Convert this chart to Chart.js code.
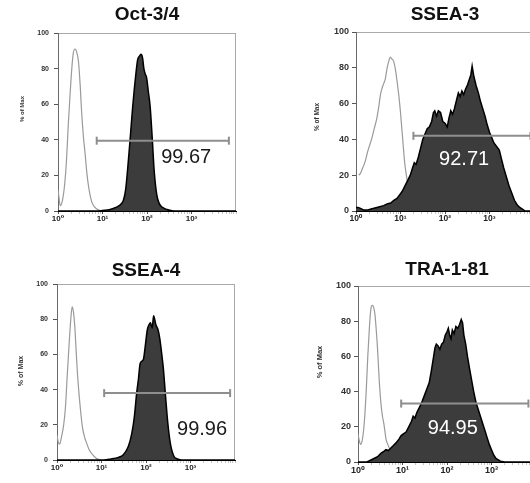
<!DOCTYPE html>
<html><head><meta charset="utf-8">
<script src="https://cdn.jsdelivr.net/npm/chart.js@4"></script>
<style>
html,body{margin:0;padding:0;background:#fff;overflow:hidden;width:530px;height:483px;position:relative}
canvas{position:absolute}
</style></head><body>
<canvas id="c0"></canvas><canvas id="c1"></canvas><canvas id="c2"></canvas><canvas id="c3"></canvas>
<script>
// ---------- data ----------
const panelTitles = ['Oct-3/4', 'SSEA-3', 'SSEA-4', 'TRA-1-81'];
const gatePercents = ['99.67', '92.71', '99.96', '94.95'];
const xTickLabels = ['10\u2070', '10\u00B9', '10\u00B2', '10\u00B3'];
const xTickValues = [1, 10, 100, 1000];
const yTickValues = [0, 20, 40, 60, 80, 100];
const yAxisTitle = '% of Max';

// [log10 fluorescence, % of max]
const oct34Isotype = [[0,12],[0.02,8],[0.05,3],[0.10,6],[0.15,15],[0.19,28],[0.23,48],[0.27,65],[0.31,80],[0.34,88],[0.38,91],[0.41,90],[0.46,84],[0.50,70],[0.53,56],[0.57,42],[0.61,32],[0.65,21],[0.68,15],[0.72,9],[0.76,5],[0.83,2],[0.92,0.5],[1.0,0]];
const oct34Stained = [[0,0],[0.9,0],[1.0,0.3],[1.15,0.7],[1.3,2],[1.40,3.5],[1.47,6],[1.52,12],[1.57,25],[1.62,40],[1.68,59],[1.75,77],[1.79,85],[1.83,87],[1.865,88],[1.90,86],[1.93,80],[1.96,77],[1.99,75],[2.03,67],[2.07,59],[2.12,40],[2.16,23],[2.22,9],[2.28,4],[2.35,2],[2.45,0.8],[2.6,0],[4,0]];

const ssea3Isotype = [[0.06,20],[0.10,21],[0.15,24],[0.21,28],[0.26,33],[0.31,37],[0.36,41],[0.41,46],[0.47,52],[0.51,58],[0.55,65],[0.59,69],[0.62,71],[0.66,74],[0.70,80],[0.74,84],[0.77,86],[0.80,85],[0.84,84],[0.88,80],[0.92,73],[0.96,65],[1.00,55],[1.03,46],[1.06,37],[1.09,28],[1.12,22],[1.15,17],[1.19,10],[1.22,5],[1.28,2],[1.36,0.5],[1.45,0]];
const ssea3Stained = [[0,2],[0.05,2],[0.1,1.5],[0.18,0.5],[0.25,0.5],[0.32,1],[0.4,1.5],[0.47,2],[0.55,2.5],[0.62,3],[0.7,4],[0.78,4.5],[0.85,6],[0.92,7],[0.98,9],[1.04,11],[1.10,14],[1.16,17],[1.22,20],[1.27,24],[1.31,27],[1.35,26],[1.40,30],[1.45,35],[1.50,40],[1.55,43],[1.60,46],[1.65,47],[1.70,50],[1.74,55],[1.77,56],[1.81,53],[1.85,56],[1.90,55],[1.95,50],[2.0,49],[2.05,47],[2.09,52],[2.13,56],[2.17,54],[2.21,57],[2.26,62],[2.30,66],[2.34,64],[2.38,67],[2.42,65],[2.46,68],[2.50,70],[2.54,73],[2.58,76],[2.61,81],[2.65,75],[2.70,70],[2.75,66],[2.80,61],[2.85,57],[2.90,53],[2.95,48],[3.00,44],[3.05,41],[3.10,38],[3.16,36],[3.22,34],[3.27,29],[3.32,24],[3.38,19],[3.44,14],[3.50,10],[3.56,6],[3.62,3.5],[3.68,2],[3.74,1],[3.8,0],[4,0]];

const ssea4Isotype = [[0,14],[0.03,10],[0.06,9],[0.10,13],[0.15,20],[0.19,30],[0.23,48],[0.27,65],[0.31,80],[0.34,87],[0.37,84],[0.40,76],[0.43,62],[0.46,49],[0.50,36],[0.53,28],[0.57,19],[0.62,13],[0.66,10],[0.72,6],[0.80,3],[0.88,1],[0.98,0]];
const ssea4Stained = [[0,0],[1.05,0],[1.2,0.5],[1.38,1.5],[1.49,3],[1.60,7.5],[1.68,15],[1.74,25],[1.79,38],[1.83,46],[1.87,55],[1.94,57],[1.98,64],[2.03,74],[2.07,77],[2.10,78],[2.14,75],[2.17,82],[2.22,77],[2.27,74],[2.31,69],[2.35,61],[2.39,52],[2.44,36],[2.49,21],[2.55,9],[2.63,2],[2.72,0.5],[2.8,0],[4,0]];

const tra181Isotype = [[0,16],[0.03,12],[0.06,10],[0.10,13],[0.14,22],[0.18,38],[0.22,60],[0.26,78],[0.29,87],[0.32,89],[0.35,88],[0.38,84],[0.41,75],[0.44,64],[0.48,45],[0.52,32],[0.55,26],[0.58,22],[0.63,13],[0.67,10],[0.72,7],[0.78,4],[0.85,2],[0.92,0]];
const tra181Stained = [[0,0],[0.2,0],[0.28,1],[0.36,2],[0.44,3],[0.52,5],[0.58,6],[0.63,7],[0.68,6.5],[0.74,8],[0.80,9.5],[0.86,11],[0.92,13],[0.97,15],[1.02,16],[1.08,17],[1.14,20],[1.20,23],[1.24,26],[1.28,25],[1.32,28],[1.36,30],[1.42,33],[1.48,37],[1.54,41],[1.60,45],[1.65,52],[1.70,60],[1.73,65],[1.76,67],[1.80,66],[1.84,64],[1.88,67],[1.92,68],[1.96,72],[2.00,74],[2.03,76],[2.06,72],[2.09,70],[2.12,75],[2.16,73],[2.20,77],[2.24,76],[2.28,78],[2.32,81],[2.35,79],[2.38,72],[2.42,67],[2.46,60],[2.50,54],[2.55,47],[2.60,40],[2.65,34],[2.70,30],[2.75,26],[2.80,22],[2.85,18],[2.90,14],[2.95,10],[3.00,7],[3.05,4],[3.10,2],[3.2,0.5],[3.3,0],[4,0]];

const isotypeSeries = [oct34Isotype, ssea3Isotype, ssea4Isotype, tra181Isotype];
const stainedSeries = [oct34Stained, ssea3Stained, ssea4Stained, tra181Stained];
// gate: [from log10, to log10, level %]
const gateLo = [0.87, 1.29, 1.06, 0.97];
const gateHi = [3.84, 3.92, 3.89, 3.83];
const gateLevel = [39.5, 42, 38, 33.2];

// ---------- layout / style (not data) ----------
const FONT = '"Liberation Sans", Arial, "DejaVu Sans", sans-serif';
const panels = [
  {plotLeft:58,  plotTop:33,  plotH:178, titleGap:18, tickFont:7, xTickFont:8, yTitleFont:6,   yTitle:[-36,76], labelAt:[2.88,30], labelColor:'#1a1a1a', padY:5, stainedTension:0.25},
  {plotLeft:356, plotTop:32,  plotH:179, titleGap:17, tickFont:9, xTickFont:8.5, yTitleFont:6.5, yTitle:[-39,85], labelAt:[2.43,29], labelColor:'#ffffff', padY:3, stainedTension:0},
  {plotLeft:57,  plotTop:284, plotH:176, titleGap:13, tickFont:7, xTickFont:8, yTitleFont:7,   yTitle:[-36,87], labelAt:[3.26,17.6], labelColor:'#1a1a1a', padY:5, stainedTension:0.2},
  {plotLeft:358, plotTop:286, plotH:176, titleGap:16, tickFont:9, xTickFont:9, yTitleFont:7.5, yTitle:[-38,76], labelAt:[2.13,19], labelColor:'#ffffff', padY:3, stainedTension:0}
];

const toPts = arr => arr.map(p => ({x: Math.pow(10, p[0]), y: p[1]}));

const decorPlugin = {
  id: 'panelDecor',
  beforeDatasetsDraw(chart, args, o) {
    const {ctx, chartArea: a} = chart;
    ctx.save();
    ctx.lineWidth = 1;
    ctx.strokeStyle = '#a9a9a9';
    ctx.beginPath();
    ctx.moveTo(a.left, a.top + 0.5); ctx.lineTo(a.right, a.top + 0.5);
    ctx.moveTo(a.right - 0.5, a.top); ctx.lineTo(a.right - 0.5, a.bottom);
    ctx.stroke();
    ctx.strokeStyle = '#6a6a6a';
    ctx.beginPath();
    ctx.moveTo(a.left + 0.5, a.top); ctx.lineTo(a.left + 0.5, a.bottom);
    ctx.stroke();
    ctx.restore();
  },
  afterDatasetsDraw(chart, args, o) {
    const {ctx, chartArea: a, scales: {x, y}} = chart;
    ctx.save();
    ctx.textAlign = 'center';
    ctx.textBaseline = 'middle';
    ctx.font = '20px ' + FONT;
    ctx.fillStyle = o.labelColor;
    ctx.fillText(o.gateText, x.getPixelForValue(Math.pow(10, o.labelAt[0])), y.getPixelForValue(o.labelAt[1]));
    ctx.font = 'bold 19px ' + FONT;
    ctx.fillStyle = '#111';
    ctx.fillText(o.title, (a.left + a.right) / 2, a.top - o.titleGap);
    ctx.translate(a.left + o.yTitle[0], a.top + o.yTitle[1]);
    ctx.rotate(-Math.PI / 2);
    ctx.font = 'bold ' + o.yTitleFont + 'px ' + FONT;
    ctx.fillStyle = '#333';
    ctx.fillText(yAxisTitle, 0, 0);
    ctx.restore();
  }
};

panels.forEach((P, i) => {
  const cv = document.getElementById('c' + i);
  const W = 265, H = 33 + P.plotH + 30;
  cv.width = W; cv.height = H;
  cv.style.width = W + 'px'; cv.style.height = H + 'px';
  cv.style.left = (P.plotLeft - 58) + 'px';
  cv.style.top = (P.plotTop - 33) + 'px';
  const padLeft = 10;
  new Chart(cv, {
    type: 'line',
    data: {
      datasets: [
        {
          label: 'gate',
          data: toPts([[gateLo[i], gateLevel[i]], [gateHi[i], gateLevel[i]]]),
          borderColor: '#8e8e8e', borderWidth: 2, fill: false,
          pointStyle: 'line', pointRotation: 90, pointRadius: 4,
          pointBorderWidth: 2, pointBorderColor: '#8e8e8e', order: 0
        },
        {
          label: 'stained',
          data: toPts(stainedSeries[i]),
          borderColor: '#000', borderWidth: 1.5, backgroundColor: '#3c3c3c',
          fill: 'origin', pointRadius: 0, tension: P.stainedTension,
          cubicInterpolationMode: P.stainedTension ? 'monotone' : 'default', order: 1
        },
        {
          label: 'isotype',
          data: toPts(isotypeSeries[i]),
          borderColor: '#9a9a9a', borderWidth: 1.2, fill: false,
          pointRadius: 0, cubicInterpolationMode: 'monotone', order: 2
        }
      ]
    },
    options: {
      responsive: false, animation: false, devicePixelRatio: 1,
      events: [],
      layout: {padding: {left: padLeft, top: 33, right: W - 58 - 178, bottom: 10}},
      plugins: {
        legend: {display: false}, tooltip: {enabled: false},
        panelDecor: {title: panelTitles[i], gateText: gatePercents[i], labelAt: P.labelAt,
          labelColor: P.labelColor, titleGap: P.titleGap, yTitle: P.yTitle, yTitleFont: P.yTitleFont}
      },
      scales: {
        x: {
          type: 'logarithmic', min: 1, max: 10000,
          afterFit(s) { s.height = 20; },
          afterBuildTicks(s) {
            const t = [];
            for (let d = 1; d <= 1000; d *= 10) for (let k = 1; k <= 9; k++) t.push({value: d * k, major: k === 1});
            t.push({value: 10000, major: true});
            s.ticks = t;
          },
          ticks: {
            autoSkip: false, maxRotation: 0, minRotation: 0, padding: 0, color: '#222',
            font: {family: FONT, size: P.xTickFont, weight: 'bold'},
            callback(v) { const k = xTickValues.indexOf(v); return k >= 0 ? xTickLabels[k] : ''; }
          },
          grid: {drawOnChartArea: false, drawTicks: true, tickLength: 3,
            tickColor: ctx => (ctx.tick && xTickValues.indexOf(ctx.tick.value) >= 0) ? '#555' : '#c4c4c4'},
          border: {display: true, color: '#000', width: 1}
        },
        y: {
          min: 0, max: 100,
          afterFit(s) { s.width = 58 - padLeft; },
          afterBuildTicks(s) { s.ticks = yTickValues.map(v => ({value: v})); },
          ticks: {padding: P.padY, color: '#333', font: {family: FONT, size: P.tickFont, weight: 'bold'}},
          grid: {drawOnChartArea: false, drawTicks: true, tickLength: 4, tickColor: '#555'},
          border: {display: false}
        }
      }
    },
    plugins: [decorPlugin]
  });
});
</script>
</body></html>
